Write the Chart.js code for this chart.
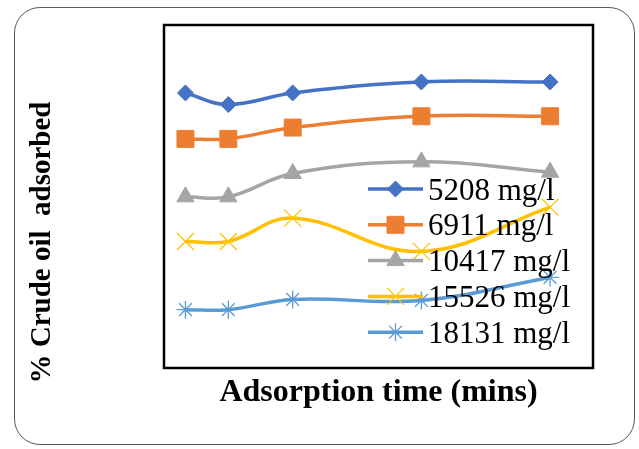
<!DOCTYPE html>
<html>
<head>
<meta charset="utf-8">
<script src="https://cdn.jsdelivr.net/npm/chart.js@4/dist/chart.umd.min.js"></script>
<style>
  body { margin: 0; background: #fff; }
  #wrap { position: relative; width: 639px; height: 449px; }
  #moldura { position: absolute; left: 14px; top: 7px; width: 621px; height: 438px; box-sizing: border-box;
             border: 1.3px solid #595959; border-radius: 26px; }
  canvas { position: absolute; left: 0; top: 0; }
</style>
</head>
<body>
<div id="wrap">
  <div id="moldura"></div>
  <canvas id="myChart" width="639" height="449"></canvas>
</div>
<script>
// tempo de adsorção (min) e % de óleo adsorvido
const tempos = [5, 15, 30, 60, 90];
const nomes = ["5208 mg/l", "6911 mg/l", "10417 mg/l", "15526 mg/l", "18131 mg/l"];
const serie5208 = [80.2, 76.8, 80.2, 83.4, 83.4];
const serie6911 = [66.8, 66.8, 70.1, 73.4, 73.4];
const serie10417 = [49.9, 49.9, 56.7, 60.1, 57.1];
const serie15526 = [36.9, 36.9, 43.7, 34.0, 46.9];
const serie18131 = [17.0, 17.0, 20.0, 19.7, 26.4];

const cores = ["#4472C4", "#ED7D31", "#A5A5A5", "#FFC000", "#5B9BD5"];
const marcadores = ["rectRot", "rect", "triangle", "crossRot", "star"];
const raios = [8, 12, 10, 12, 9];
const series = [serie5208, serie6911, serie10417, serie15526, serie18131];

const fonte = "'Liberation Serif', 'Times New Roman', serif";

function pontos(valores) {
  return valores.map((v, i) => ({ x: tempos[i], y: v }));
}

const datasets = series.map((s, i) => ({
  label: nomes[i],
  data: pontos(s),
  borderColor: cores[i],
  backgroundColor: cores[i],
  borderWidth: 3.5,
  tension: 0.4,
  pointStyle: marcadores[i],
  pointRadius: raios[i],
  pointHoverRadius: raios[i],
  pointBackgroundColor: cores[i],
  pointBorderColor: cores[i],
  pointBorderWidth: i >= 3 ? 1.3 : 1,
  showLine: true,
}));

// moldura da área do gráfico, título do eixo y e legenda dentro do gráfico
const extras = {
  id: "extras",
  afterDatasetsDraw(chart) {
    const ctx = chart.ctx;
    const a = chart.chartArea;
    ctx.save();
    ctx.strokeStyle = "#000";
    ctx.lineWidth = 2.5;
    ctx.strokeRect(a.left, a.top, a.right - a.left, a.bottom - a.top);

    // legenda
    ctx.font = "31px " + fonte;
    ctx.textBaseline = "alphabetic";
    ctx.textAlign = "left";
    chart.data.datasets.forEach((ds, i) => {
      const y = 189 + i * 35.8;
      ctx.strokeStyle = ds.borderColor;
      ctx.lineWidth = 3.5;
      ctx.beginPath();
      ctx.moveTo(368, y);
      ctx.lineTo(423, y);
      ctx.stroke();
      ctx.fillStyle = ds.pointBackgroundColor;
      ctx.strokeStyle = ds.pointBorderColor;
      ctx.lineWidth = ds.pointBorderWidth;
      Chart.helpers.drawPoint(ctx, {
        pointStyle: ds.pointStyle, radius: ds.pointRadius, borderWidth: ds.pointBorderWidth, rotation: 0
      }, 395.5, y);
      ctx.fillStyle = "#000";
      ctx.fillText(ds.label, 428, y + 10.5);
    });

    // título do eixo y
    ctx.translate(43, 242.5);
    ctx.rotate(-Math.PI / 2);
    ctx.font = "bold 29px " + fonte;
    ctx.textAlign = "center";
    ctx.textBaseline = "middle";
    ctx.fillStyle = "#000";
    ctx.fillText("% Crude oil  adsorbed", 0, 0);
    ctx.restore();
  }
};

const ctx = document.getElementById("myChart").getContext("2d");
const myChart = new Chart(ctx, {
  type: "scatter",
  data: { datasets: datasets },
  options: {
    responsive: false,
    animation: false,
    devicePixelRatio: 1,
    layout: { padding: { left: 164, right: 46, top: 25, bottom: 20 } },
    plugins: {
      legend: { display: false },
      tooltip: { enabled: false },
    },
    scales: {
      x: {
        type: "linear",
        min: 0,
        max: 100,
        grid: { display: false, drawTicks: false },
        border: { display: false },
        ticks: { display: false },
        title: {
          display: true,
          text: "Adsorption time (mins)",
          color: "#000",
          font: { family: fonte, size: 32, weight: "bold", lineHeight: 1.2 },
          padding: { top: 5.8, bottom: 16.8 },
        },
      },
      y: {
        display: false,
        min: 0,
        max: 100,
      },
    },
  },
  plugins: [extras],
});
</script>
</body>
</html>
